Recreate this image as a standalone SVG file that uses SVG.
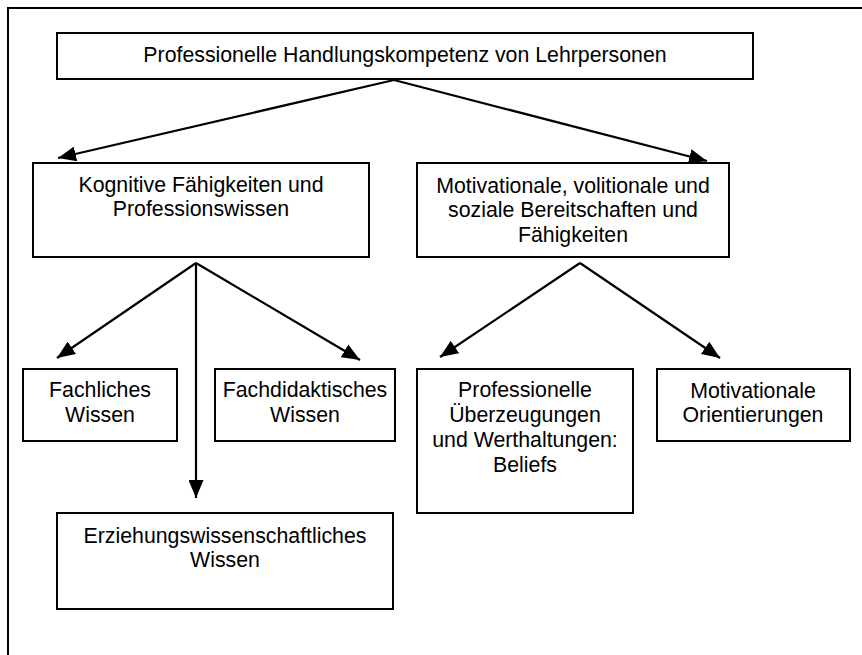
<svg xmlns="http://www.w3.org/2000/svg" width="862" height="655" viewBox="0 0 862 655">
<defs>
<style>
.box{fill:#fff;stroke:#000;stroke-width:2}
.t{font-family:"Liberation Sans",Arial,sans-serif;font-size:21.3px;fill:#000;text-anchor:middle}
.c{stroke:#000;stroke-width:2.2;fill:none;marker-end:url(#ah)}
.frame{stroke:#000;stroke-width:2;fill:none}
</style>
<marker id="ah" markerUnits="userSpaceOnUse" markerWidth="18" markerHeight="15" refX="18" refY="7.5" orient="auto">
<path d="M0,0 L18,7.5 L0,15 z" fill="#000"/>
</marker>
</defs>
<rect width="862" height="655" fill="#fff"/>
<path class="frame" d="M8,655 L8,8 L862,8"/>
<g id="connectors">
<line class="c" x1="394" y1="80" x2="58" y2="158"/>
<line class="c" x1="394" y1="80" x2="707" y2="161"/>
<line class="c" x1="196" y1="263" x2="57" y2="358"/>
<line class="c" x1="196" y1="263" x2="196" y2="498"/>
<line class="c" x1="196" y1="263" x2="360" y2="360"/>
<line class="c" x1="580" y1="263" x2="440" y2="357"/>
<line class="c" x1="580" y1="263" x2="720" y2="358"/>
</g>
<g id="top">
<rect class="box" x="57" y="33" width="696" height="46"/>
<text class="t" x="405" y="62">Professionelle Handlungskompetenz von Lehrpersonen</text>
</g>
<g id="kognitiv">
<rect class="box" x="33" y="163" width="336" height="94"/>
<text class="t" x="201" y="192">Kognitive Fähigkeiten und</text>
<text class="t" x="201" y="216">Professionswissen</text>
</g>
<g id="motivational">
<rect class="box" x="417" y="163" width="312" height="94"/>
<text class="t" x="573" y="193">Motivationale, volitionale und</text>
<text class="t" x="573" y="217">soziale Bereitschaften und</text>
<text class="t" x="573" y="242">Fähigkeiten</text>
</g>
<g id="fachlich">
<rect class="box" x="23" y="369" width="154" height="72"/>
<text class="t" x="100" y="397">Fachliches</text>
<text class="t" x="100" y="422">Wissen</text>
</g>
<g id="fachdidaktisch">
<rect class="box" x="215" y="369" width="180" height="72"/>
<text class="t" x="305" y="397">Fachdidaktisches</text>
<text class="t" x="305" y="422">Wissen</text>
</g>
<g id="erziehung">
<rect class="box" x="57" y="513" width="336" height="96"/>
<text class="t" x="225" y="543">Erziehungswissenschaftliches</text>
<text class="t" x="225" y="567">Wissen</text>
</g>
<g id="beliefs">
<rect class="box" x="417" y="369" width="216" height="144"/>
<text class="t" x="525" y="397">Professionelle</text>
<text class="t" x="525" y="422">Überzeugungen</text>
<text class="t" x="525" y="447">und Werthaltungen:</text>
<text class="t" x="525" y="472">Beliefs</text>
</g>
<g id="orientierungen">
<rect class="box" x="657" y="369" width="193" height="72"/>
<text class="t" x="753" y="398">Motivationale</text>
<text class="t" x="753" y="422">Orientierungen</text>
</g>
</svg>
